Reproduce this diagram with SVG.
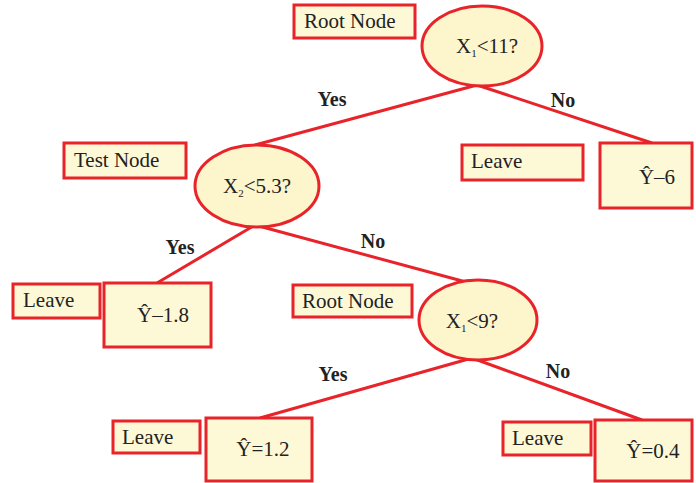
<svg xmlns="http://www.w3.org/2000/svg" width="696" height="483" viewBox="0 0 696 483">
<style>
.box{fill:#fdf8d6;stroke:#e8232a;stroke-width:3}
.ell{fill:#fdf5cc;stroke:#e8232a;stroke-width:3}
.edge{stroke:#e8232a;stroke-width:3;fill:none}
text{font-family:"Liberation Serif","Tinos","Times New Roman","DejaVu Serif",serif;fill:#222}
.t{font-size:21px}
.v{font-size:21px;text-anchor:middle}
.lab{font-size:20px;font-weight:bold;text-anchor:middle}
.sub{font-size:11px}
</style>
<rect width="696" height="483" fill="#ffffff"/>
<g id="connectors">
<line class="edge" x1="477" y1="85" x2="255" y2="145"/>
<line class="edge" x1="477" y1="85" x2="652" y2="143"/>
<line class="edge" x1="255" y1="225" x2="157" y2="283"/>
<line class="edge" x1="255" y1="225" x2="466" y2="282"/>
<line class="edge" x1="472" y1="358" x2="260" y2="418"/>
<line class="edge" x1="472" y1="358" x2="642" y2="420"/>
<text class="lab" x="332" y="106">Yes</text>
<text class="lab" x="563" y="107">No</text>
<text class="lab" x="180" y="254">Yes</text>
<text class="lab" x="373" y="248">No</text>
<text class="lab" x="333" y="381">Yes</text>
<text class="lab" x="558" y="378">No</text>
</g>
<g id="root-label"><rect class="box" x="294" y="5" width="121" height="33"/><text class="t" x="304" y="28">Root Node</text></g>
<g id="n1"><ellipse class="ell" cx="482" cy="46" rx="60" ry="40"/><text class="v" x="487" y="53">X<tspan class="sub" dy="4">1</tspan><tspan dy="-4">&lt;11?</tspan></text></g>
<g id="test-label"><rect class="box" x="64" y="143" width="122" height="35"/><text class="t" x="74" y="167">Test Node</text></g>
<g id="n2"><ellipse class="ell" cx="257" cy="186" rx="62" ry="41"/><text class="v" x="257" y="193">X<tspan class="sub" dy="4">2</tspan><tspan dy="-4">&lt;5.3?</tspan></text></g>
<g id="leave1"><rect class="box" x="462" y="145" width="121" height="35"/><text class="t" x="471" y="168">Leave</text></g>
<g id="y6"><rect class="box" x="600" y="143" width="92" height="65"/><text class="v" x="657" y="184">Ŷ–6</text></g>
<g id="leave2"><rect class="box" x="13" y="284" width="87" height="34"/><text class="t" x="23" y="307">Leave</text></g>
<g id="y18"><rect class="box" x="104" y="283" width="107" height="64"/><text class="v" x="163" y="322">Ŷ–1.8</text></g>
<g id="root2-label"><rect class="box" x="293" y="285" width="119" height="32"/><text class="t" x="302" y="308">Root Node</text></g>
<g id="n3"><ellipse class="ell" cx="478" cy="320" rx="59" ry="40"/><text class="v" x="472" y="328">X<tspan class="sub" dy="4">1</tspan><tspan dy="-4">&lt;9?</tspan></text></g>
<g id="leave3"><rect class="box" x="113" y="421" width="87" height="32"/><text class="t" x="122" y="444">Leave</text></g>
<g id="y12"><rect class="box" x="206" y="418" width="106" height="63"/><text class="v" x="263" y="456">Ŷ=1.2</text></g>
<g id="leave4"><rect class="box" x="503" y="422" width="88" height="33"/><text class="t" x="512" y="445">Leave</text></g>
<g id="y04"><rect class="box" x="595" y="420" width="97" height="61"/><text class="v" x="653" y="458">Ŷ=0.4</text></g>
</svg>
